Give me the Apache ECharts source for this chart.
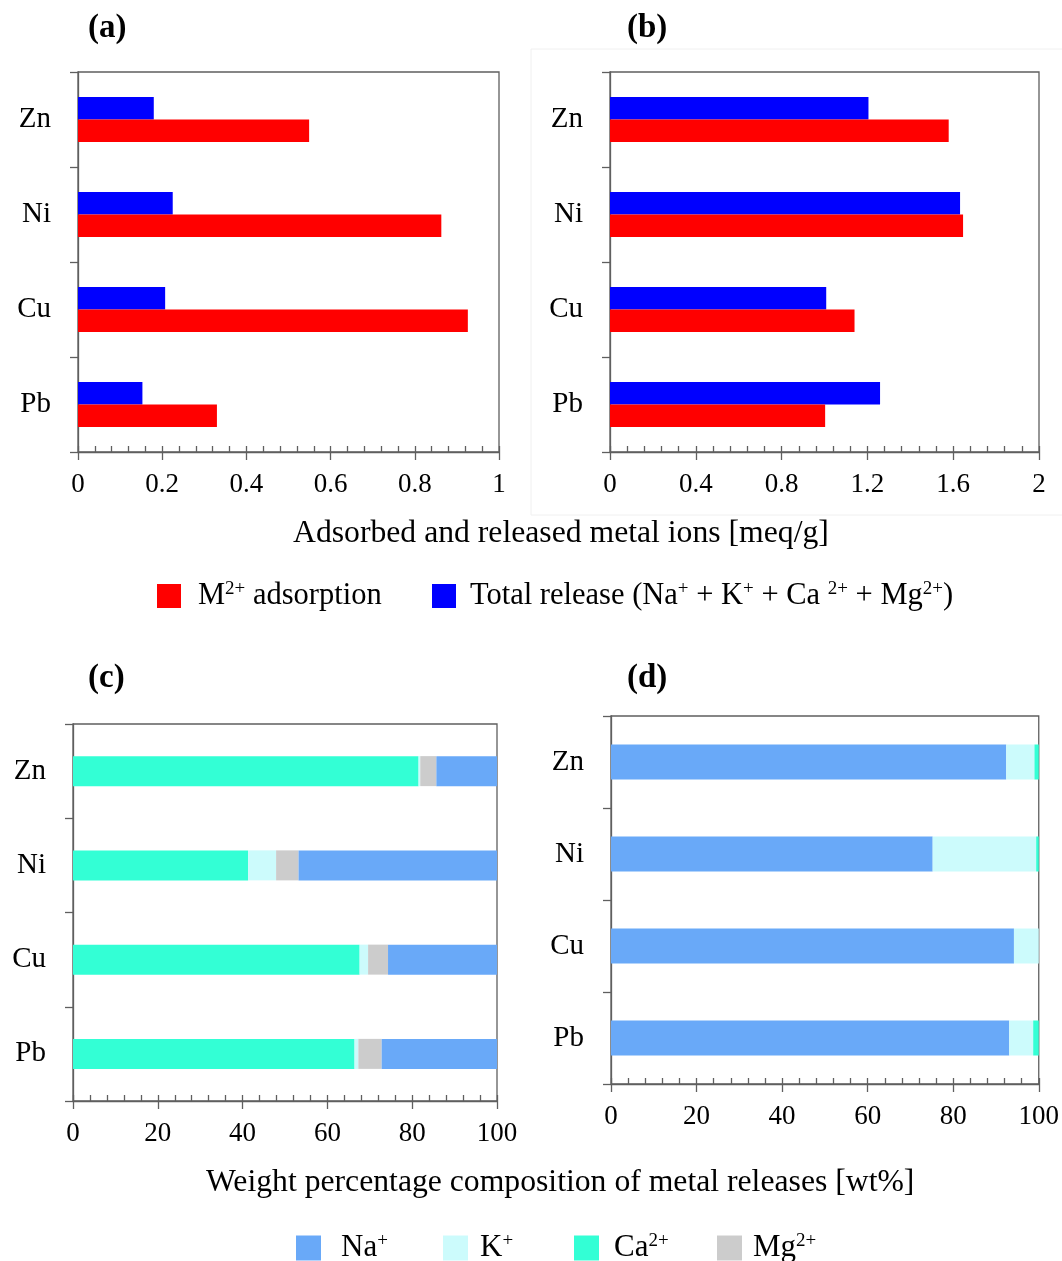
<!DOCTYPE html>
<html><head><meta charset="utf-8">
<script src="https://cdn.jsdelivr.net/npm/echarts@6/dist/echarts.min.js"></script>
<style>html,body{margin:0;padding:0;background:#fff}#c{width:1062px;height:1261px}</style>
</head><body><div id="c"></div>
<script>
// ---------- data ----------
const metals = ['Zn', 'Ni', 'Cu', 'Pb'];
// panel (a) [meq/g]
const adsorptionA = [0.549, 0.863, 0.926, 0.330];
const releaseA = [0.180, 0.225, 0.207, 0.153];
// panel (b) [meq/g]
const adsorptionB = [1.579, 1.646, 1.140, 1.003];
const releaseB = [1.205, 1.632, 1.008, 1.259];
// panel (c) [wt%]
const caC = [81.5, 41.3, 67.6, 66.4];
const kC = [0.4, 6.6, 2.0, 0.9];
const mgC = [3.8, 5.3, 4.7, 5.5];
const naC = [14.3, 46.8, 25.7, 27.2];
// panel (d) [wt%]
const naD = [92.4, 75.2, 94.2, 93.1];
const kD = [6.6, 24.2, 5.8, 5.6];
const caD = [1.0, 0.6, 0, 1.3];
const mgD = [0, 0, 0, 0];
// tick labels
const ticksA = [0, 0.2, 0.4, 0.6, 0.8, 1];
const ticksB = [0, 0.4, 0.8, 1.2, 1.6, 2];
const ticksCD = [0, 20, 40, 60, 80, 100];
// names
const adsName = 'M2+ adsorption';
const relName = 'Total release (Na+ + K+ + Ca 2+ + Mg2+)';
const ionNames = ['Na+', 'K+', 'Ca2+', 'Mg2+'];
const panelTitles = ['(a)', '(b)', '(c)', '(d)'];
const axisTitle1 = 'Adsorbed and released metal ions [meq/g]';
const axisTitle2 = 'Weight percentage composition of metal releases [wt%]';

// ---------- styling ----------
const FF = 'Liberation Serif';
const AX = '#5f5f5f';
const C = {red: '#FF0000', blue: '#0000FF', na: '#69A9F8', k: '#CCFBFC', ca: '#33FFD5', mg: '#CCCCCC'};
const richMap = {};
richMap[adsName] = '{f|M}{s|2+}{t| adsorption}';
richMap[relName] = '{f2|Total release (Na}{s|+}{t| + K}{s|+}{t| + Ca }{s|2+}{t| + Mg}{s|2+}{t|)}';
richMap['Na+'] = '{g0|Na}{s|+}';
richMap['K+'] = '{g1|K}{s|+}';
richMap['Ca2+'] = '{g2|Ca}{s|2+}';
richMap['Mg2+'] = '{g3|Mg}{s|2+}';
function ts(pad, size) {
  return {fontFamily: FF, fontSize: size, color: '#000', lineHeight: 32, padding: [0, 0, 0, pad]};
}
const rich = {
  t: ts(0, 30.5),
  f: ts(12, 30.5),
  f2: ts(9, 30.5),
  g0: ts(15, 31),
  g1: ts(7, 31),
  g2: ts(10, 31),
  g3: ts(6, 31),
  s: {fontFamily: FF, fontSize: 19, color: '#000', verticalAlign: 'top', lineHeight: 32, padding: [0, 0, 8, 0]}
};

const grids = [
  {left: 78, top: 72, width: 421, height: 380},
  {left: 610, top: 72, width: 429, height: 380},
  {left: 73, top: 724, width: 424, height: 377},
  {left: 611, top: 716, width: 431, height: 368}
];
const tickSets = [ticksA, ticksB, ticksCD, ticksCD];

const xAxis = [];
tickSets.forEach((t, i) => {
  const min = t[0], max = t[t.length - 1], interval = t[1] - t[0];
  xAxis.push({
    type: 'value', gridIndex: i, min, max, interval, position: 'bottom',
    axisLine: {show: true, lineStyle: {color: AX, width: 1.3}},
    axisTick: {show: true, inside: false, length: 8, lineStyle: {color: AX, width: 1.3}},
    axisLabel: {fontFamily: FF, fontSize: 27, color: '#000', margin: 19,
      formatter: v => String(+v.toFixed(2))},
    splitLine: {show: false}
  });
  xAxis.push({
    type: 'value', gridIndex: i, min, max, interval, position: 'bottom',
    axisLine: {show: false},
    axisTick: {show: true, inside: true, length: 6, lineStyle: {color: AX, width: 1.3}},
    minorTick: {show: true, splitNumber: 5, length: 6, lineStyle: {color: AX, width: 1.3}},
    axisLabel: {show: false},
    splitLine: {show: false}
  });
});

const yAxis = grids.map((g, i) => ({
  type: 'category', gridIndex: i, data: metals, inverse: true,
  axisLine: {show: true, lineStyle: {color: AX, width: 1.3}},
  axisTick: {show: true, inside: false, length: 8, lineStyle: {color: AX, width: 1.3}},
  axisLabel: {fontFamily: FF, fontSize: 29, color: '#000', margin: 27}
}));

function bar(name, data, xi, yi, color, width, stack) {
  const s = {name, type: 'bar', xAxisIndex: xi, yAxisIndex: yi, data,
    barWidth: width, barGap: '0%', itemStyle: {color}, emphasis: {disabled: true}};
  if (stack) s.stack = stack;
  return s;
}

const series = [
  bar(relName, releaseA, 0, 0, C.blue, 22.5),
  bar(adsName, adsorptionA, 0, 0, C.red, 22.5),
  bar(relName, releaseB, 2, 1, C.blue, 22.5),
  bar(adsName, adsorptionB, 2, 1, C.red, 22.5),
  bar('Ca2+', caC, 4, 2, C.ca, 30, 'c'),
  bar('K+', kC, 4, 2, C.k, 30, 'c'),
  bar('Mg2+', mgC, 4, 2, C.mg, 30, 'c'),
  bar('Na+', naC, 4, 2, C.na, 30, 'c'),
  bar('Na+', naD, 6, 3, C.na, 35, 'd'),
  bar('K+', kD, 6, 3, C.k, 35, 'd'),
  bar('Ca2+', caD, 6, 3, C.ca, 35, 'd'),
  bar('Mg2+', mgD, 6, 3, C.mg, 35, 'd')
];

function legend(name, left, top, size) {
  return {data: [name], left, top, padding: 0, itemWidth: size, itemHeight: size, icon: 'rect',
    selectedMode: false, itemStyle: {borderWidth: 0},
    formatter: n => richMap[n], textStyle: {rich}};
}
const legends = [
  legend(adsName, 157, 580, 24),
  legend(relName, 432, 580, 24),
  legend(ionNames[0], 296, 1232, 25),
  legend(ionNames[1], 443, 1232, 25),
  legend(ionNames[2], 574, 1232, 25),
  legend(ionNames[3], 717, 1232, 25)
];

const titlePos = [[88, 12], [627, 12], [88, 662], [627, 662]];
const titles = panelTitles.map((t, i) => ({text: t, left: titlePos[i][0], top: titlePos[i][1], padding: 0,
  textStyle: {fontFamily: FF, fontSize: 33, fontWeight: 'bold', color: '#000'}}));
titles.push({text: axisTitle1, left: 293, top: 518, padding: 0,
  textStyle: {fontFamily: FF, fontSize: 31.7, fontWeight: 'normal', color: '#000'}});
titles.push({text: axisTitle2, left: 206, top: 1167, padding: 0,
  textStyle: {fontFamily: FF, fontSize: 31.7, fontWeight: 'normal', color: '#000'}});

const chart = echarts.init(document.getElementById('c'), null, {renderer: 'canvas'});
chart.setOption({
  animation: false,
  backgroundColor: '#fff',
  title: titles,
  legend: legends,
  grid: grids.map(g => Object.assign({show: true, borderColor: AX, borderWidth: 1.3, containLabel: false}, g)),
  xAxis, yAxis, series,
  graphic: [{type: 'rect', silent: true, z: -1, shape: {x: 531, y: 49, width: 560, height: 466},
    style: {fill: 'none', stroke: '#f0f0f0', lineWidth: 1}}]
});
</script></body></html>
